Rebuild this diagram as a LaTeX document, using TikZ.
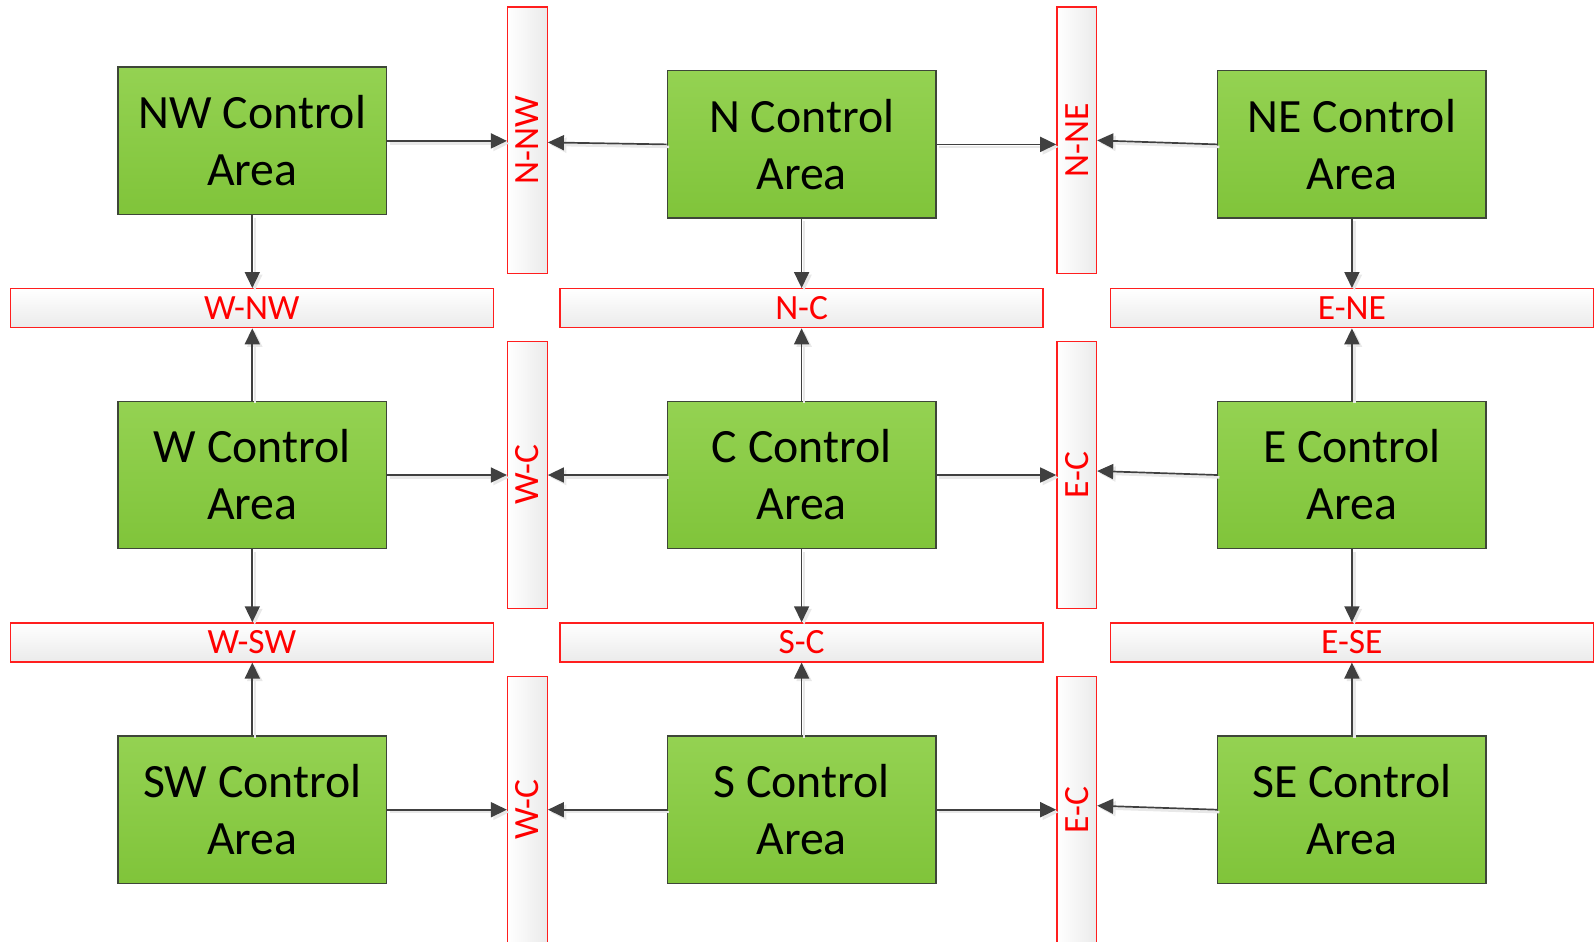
\documentclass[tikz,border=0pt]{standalone}
\usepackage{fontspec}
\usepackage{graphicx}
\setmainfont{Carlito}
\usetikzlibrary{arrows.meta}
\definecolor{boxtop}{RGB}{148,210,82}
\definecolor{boxbot}{RGB}{128,196,58}
\definecolor{boxline}{RGB}{62,70,56}
\definecolor{barred}{RGB}{255,30,30}
\definecolor{linkgray}{RGB}{64,64,64}
\begin{document}
\begin{tikzpicture}[x=1pt,y=-1pt,
  area/.style={draw=boxline, line width=1.4pt, top color=boxtop, bottom color=boxbot,
    minimum width=268.5pt, minimum height=147.5pt, inner sep=0pt, align=center,
    font=\fontsize{47.8}{57}\selectfont},
  barbase/.style={draw=barred, line width=1.3pt, inner sep=0pt, text=red,
    font=\fontsize{35.5}{40}\selectfont},
  hbar/.style={barbase, top color=white, bottom color=black!8,
    minimum width=483pt, minimum height=39pt},
  vbar/.style={barbase, left color=white, right color=black!8,
    minimum width=39.7pt, minimum height=266.5pt},
  tip/.style={-{Triangle[length=16pt,width=15pt]}},
  link/.style={draw=linkgray, line width=1.7pt, tip,
    preaction={draw=black!9, line width=2.5pt, tip,
      transform canvas={shift={(2.5pt,-2.5pt)}}}}
]
\useasboundingbox (0,0) rectangle (1595,942);

% interface bars between control areas
\node[vbar] (nnw) at (527.4,140.4) {\rotatebox{90}{N-NW}};
\node[vbar] (nne) at (1076.7,140.4) {\rotatebox{90}{N-NE}};
\node[vbar] (wc)  at (527.4,475) {\rotatebox{90}{W-C}};
\node[vbar] (ec)  at (1076.7,475) {\rotatebox{90}{E-C}};
\node[vbar] (wcs) at (527.4,809.7) {\rotatebox{90}{W-C}};
\node[vbar] (ecs) at (1076.7,809.7) {\rotatebox{90}{E-C}};

\node[hbar] (wnw) at (251.8,308.2) {W-NW};
\node[hbar] (nc)  at (801.6,308.2) {N-C};
\node[hbar] (ene) at (1351.9,308.2) {E-NE};
\node[hbar] (wsw) at (251.8,642.4) {W-SW};
\node[hbar] (sc)  at (801.6,642.4) {S-C};
\node[hbar] (ese) at (1351.9,642.4) {E-SE};

% control areas
\node[area] (NW) at (252.3,140.9) {NW Control\\Area};
\node[area] (N)  at (801.6,144.4) {N Control\\Area};
\node[area] (NE) at (1351.9,144.4) {NE Control\\Area};
\node[area] (W)  at (252.3,475) {W Control\\Area};
\node[area] (C)  at (801.6,475) {C Control\\Area};
\node[area] (E)  at (1351.9,475) {E Control\\Area};
\node[area] (SW) at (252.3,809.7) {SW Control\\Area};
\node[area] (S)  at (801.6,809.7) {S Control\\Area};
\node[area] (SE) at (1351.9,809.7) {SE Control\\Area};

% horizontal links
\draw[link] (NW.east) -- (nnw.west |- NW.east);
\draw[link] (N.west) -- ([yshift=2pt]nnw.east |- N.west);
\draw[link] (N.east) -- (nne.west |- N.east);
\draw[link] (NE.west) -- ([yshift=4pt]nne.east |- NE.west);
\draw[link] (W.east) -- (wc.west |- W.east);
\draw[link] (C.west) -- (wc.east |- C.west);
\draw[link] (C.east) -- (ec.west |- C.east);
\draw[link] (E.west) -- ([yshift=4pt]ec.east |- E.west);
\draw[link] (SW.east) -- (wcs.west |- SW.east);
\draw[link] (S.west) -- (wcs.east |- S.west);
\draw[link] (S.east) -- (ecs.west |- S.east);
\draw[link] (SE.west) -- ([yshift=4pt]ecs.east |- SE.west);

% vertical links
\draw[link] (NW.south) -- (wnw.north -| NW.south);
\draw[link] (N.south) -- (nc.north -| N.south);
\draw[link] (NE.south) -- (ene.north -| NE.south);
\draw[link] (W.north) -- (wnw.south -| W.north);
\draw[link] (C.north) -- (nc.south -| C.north);
\draw[link] (E.north) -- (ene.south -| E.north);
\draw[link] (W.south) -- (wsw.north -| W.south);
\draw[link] (C.south) -- (sc.north -| C.south);
\draw[link] (E.south) -- (ese.north -| E.south);
\draw[link] (SW.north) -- (wsw.south -| SW.north);
\draw[link] (S.north) -- (sc.south -| S.north);
\draw[link] (SE.north) -- (ese.south -| SE.north);
\end{tikzpicture}
\end{document}
